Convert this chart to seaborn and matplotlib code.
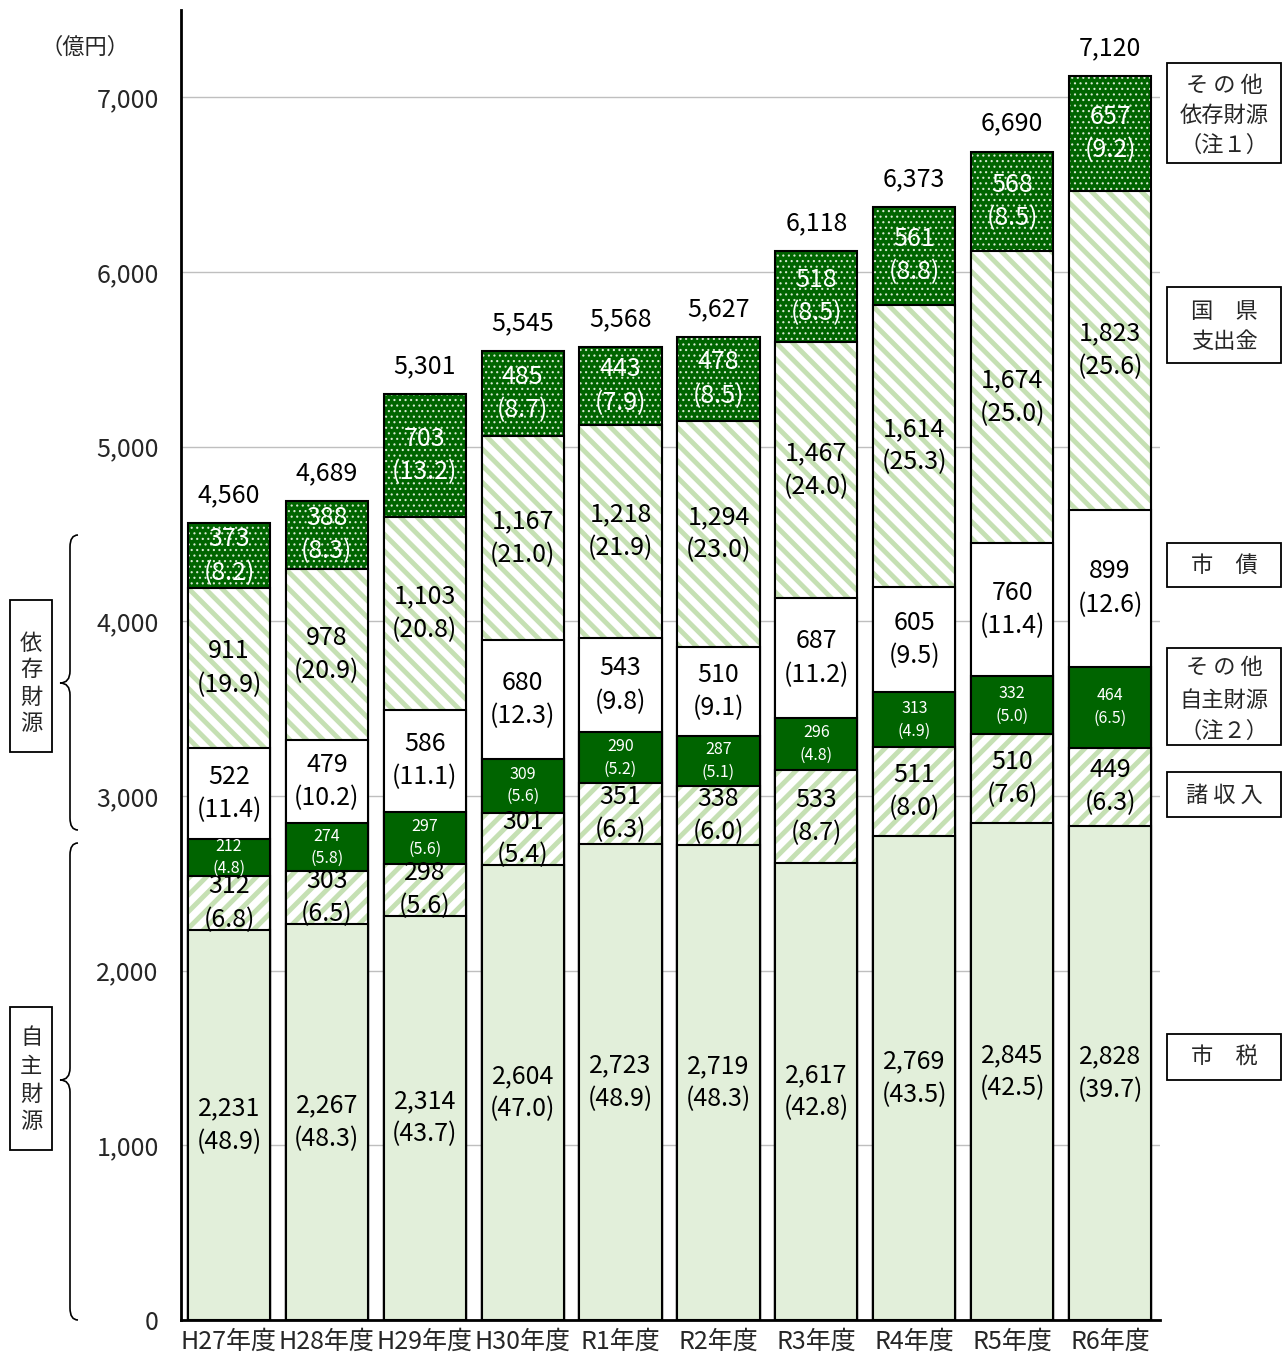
import matplotlib
matplotlib.use("Agg")
import matplotlib.pyplot as plt
import seaborn as sns
import pandas as pd
from matplotlib.patches import Rectangle, PathPatch
from matplotlib.path import Path
from matplotlib.ticker import FuncFormatter

# ---------------- data ----------------
years = ["H27年度", "H28年度", "H29年度", "H30年度", "R1年度",
         "R2年度", "R3年度", "R4年度", "R5年度", "R6年度"]
shizei = [2231, 2267, 2314, 2604, 2723, 2719, 2617, 2769, 2845, 2828]
shizei_pct = [48.9, 48.3, 43.7, 47.0, 48.9, 48.3, 42.8, 43.5, 42.5, 39.7]
shoshunyu = [312, 303, 298, 301, 351, 338, 533, 511, 510, 449]
shoshunyu_pct = [6.8, 6.5, 5.6, 5.4, 6.3, 6.0, 8.7, 8.0, 7.6, 6.3]
sonota_jishu = [212, 274, 297, 309, 290, 287, 296, 313, 332, 464]
sonota_jishu_pct = [4.8, 5.8, 5.6, 5.6, 5.2, 5.1, 4.8, 4.9, 5.0, 6.5]
shisai = [522, 479, 586, 680, 543, 510, 687, 605, 760, 899]
shisai_pct = [11.4, 10.2, 11.1, 12.3, 9.8, 9.1, 11.2, 9.5, 11.4, 12.6]
kokuken = [911, 978, 1103, 1167, 1218, 1294, 1467, 1614, 1674, 1823]
kokuken_pct = [19.9, 20.9, 20.8, 21.0, 21.9, 23.0, 24.0, 25.3, 25.0, 25.6]
sonota_izon = [373, 388, 703, 485, 443, 478, 518, 561, 568, 657]
sonota_izon_pct = [8.2, 8.3, 13.2, 8.7, 7.9, 8.5, 8.5, 8.8, 8.5, 9.2]
totals = [4560, 4689, 5301, 5545, 5568, 5627, 6118, 6373, 6690, 7120]
yticks = [0, 1000, 2000, 3000, 4000, 5000, 6000, 7000]

# ---------------- style ----------------
sns.set_style("white")
FONT = ["Noto Sans CJK JP", "DejaVu Sans"]
plt.rcParams["font.family"] = FONT

W, H = 1287, 1369
fig = plt.figure(figsize=(W / 100, H / 100), dpi=100)
ax = fig.add_axes([181 / W, 1 - 1320 / H, (1160 - 181) / W, (1320 - 10) / H])

LIGHT = "#e2efda"
HATCHG = "#c5e0b3"
DARK = "#006400"
DOTC = "#d9ead3"

# layers bottom -> top: (values, pct, face, hatch, hatchcolor, hatch_lw, textcolor, size, offset)
layers = [
    (shizei, shizei_pct, LIGHT, None, LIGHT, 1.0, "black", 18, 12),
    (shoshunyu, shoshunyu_pct, "white", "//", HATCHG, 3.5, "black", 18, 12),
    (sonota_jishu, sonota_jishu_pct, DARK, None, DARK, 1.0, "white", 11.5, 8),
    (shisai, shisai_pct, "white", None, "white", 1.0, "black", 18, 12),
    (kokuken, kokuken_pct, "white", "\\\\", HATCHG, 3.5, "black", 18, 12),
    (sonota_izon, sonota_izon_pct, DARK, "...", DOTC, 0.8, "white", 18, 12),
]

# cumulative heights
cums = []
run = [0] * len(years)
for vals, *_ in layers:
    bottoms = run[:]
    run = [a + b for a, b in zip(run, vals)]
    cums.append((bottoms, run[:]))

BW = 0.84
# draw from top layer down so each lower (shorter) bar overlays the upper ones
for li in range(len(layers) - 1, -1, -1):
    vals, pct, face, hatch, hcol, hlw, tcol, fs, off = layers[li]
    bottoms, tops = cums[li]
    df = pd.DataFrame({"year": years, "top": tops})
    # fill pass
    n0 = len(ax.patches)
    sns.barplot(data=df, x="year", y="top", order=years, color=face, saturation=1,
                width=BW, errorbar=None, ax=ax)
    for p in ax.patches[n0:]:
        p.set_facecolor(face)
        p.set_edgecolor(hcol)
        p.set_linewidth(0)
        if hatch:
            p.set_hatch(hatch)
            if hasattr(p, "set_hatch_linewidth"):
                p.set_hatch_linewidth(hlw)
    # outline pass
    n0 = len(ax.patches)
    sns.barplot(data=df, x="year", y="top", order=years, color="white", saturation=1,
                width=BW, errorbar=None, ax=ax)
    for p in ax.patches[n0:]:
        p.set_facecolor("none")
        p.set_edgecolor("black")
        p.set_linewidth(1.5)

# segment labels
for li, (vals, pct, face, hatch, hcol, hlw, tcol, fs, off) in enumerate(layers):
    bottoms, tops = cums[li]
    for i in range(len(years)):
        mid = bottoms[i] + vals[i] / 2
        ax.annotate(f"{vals[i]:,}", (i, mid), xytext=(0, off), textcoords="offset points",
                    ha="center", va="center", fontsize=fs, color=tcol, zorder=10)
        ax.annotate(f"({pct[i]:.1f})", (i, mid), xytext=(0, -off), textcoords="offset points",
                    ha="center", va="center", fontsize=fs, color=tcol, zorder=10)

# totals
for i, t in enumerate(totals):
    ax.annotate(f"{t:,}", (i, t), xytext=(0, 20), textcoords="offset points",
                ha="center", va="center", fontsize=18, color="black")

# axes cosmetics
ax.set_xlim(-0.49, 9.51)
ax.set_ylim(0, 7500)
ax.set_yticks(yticks)
ax.yaxis.set_major_formatter(FuncFormatter(lambda v, p: f"{int(v):,}"))
ax.set_axisbelow(True)
ax.yaxis.grid(True, color="#bfbfbf", lw=1)
ax.xaxis.grid(False)
ax.set_xlabel("")
ax.set_ylabel("")
ax.set_xticks(range(len(years)))
ax.set_xticklabels(years)
ax.tick_params(axis="y", length=0, pad=16, labelsize=18)
ax.tick_params(axis="x", length=0, pad=6, labelsize=18)
for s in ["top", "right"]:
    ax.spines[s].set_visible(False)
for s in ["left", "bottom"]:
    ax.spines[s].set_color("black")
    ax.spines[s].set_linewidth(2)


# ---------------- annotations in figure pixel coords ----------------
def fx(x):
    return x / W


def fy(y):
    return 1 - y / H


def box(x0, y0, x1, y1):
    fig.add_artist(Rectangle((fx(x0), fy(y1)), fx(x1) - fx(x0), fy(y0) - fy(y1),
                             transform=fig.transFigure, fill=False, edgecolor="black",
                             linewidth=1.3))


def lines(xc, ys, texts, fs=16):
    for y, t in zip(ys, texts):
        fig.text(fx(xc), fy(y), t, ha="center", va="center", fontsize=fs)


fig.text(fx(85), fy(47), "（億円）", ha="center", va="center", fontsize=16)

# right-side legend boxes
box(1167, 63, 1281, 163)
lines(1224, [86, 115, 145], ["そ の 他", "依存財源", "（注１）"])
box(1167, 287, 1281, 363)
lines(1224, [311, 341], ["国　県", "支出金"])
box(1167, 543, 1281, 587)
lines(1224, [565], ["市　債"])
box(1167, 648, 1281, 745)
lines(1224, [668, 700, 731], ["そ の 他", "自主財源", "（注２）"])
box(1167, 772, 1281, 817)
lines(1224, [795], ["諸 収 入"])
box(1167, 1034, 1281, 1080)
lines(1224, [1057], ["市　税"])

# left vertical boxes
box(10, 600, 52, 752)
lines(31, [643, 670, 697, 724], list("依存財源"))
box(10, 1007, 52, 1150)
lines(31, [1038, 1066, 1094, 1121], list("自主財源"))


def brace(top, bot, mid, xs=70, xe=78, xt=60, r=12):
    verts = [
        (xe, top), (xs, top), (xs, top + r),
        (xs, mid - r),
        (xs, mid), (xt, mid),
        (xs, mid), (xs, mid + r),
        (xs, bot - r),
        (xs, bot), (xe, bot),
    ]
    codes = [Path.MOVETO, Path.CURVE3, Path.CURVE3, Path.LINETO,
             Path.CURVE3, Path.CURVE3, Path.CURVE3, Path.CURVE3,
             Path.LINETO, Path.CURVE3, Path.CURVE3]
    v = [(fx(a), fy(b)) for a, b in verts]
    fig.add_artist(PathPatch(Path(v, codes), transform=fig.transFigure, fill=False,
                             edgecolor="black", linewidth=1.2))


brace(535, 830, 683)
brace(843, 1320, 1080)

fig.savefig("out.png", dpi=100)
